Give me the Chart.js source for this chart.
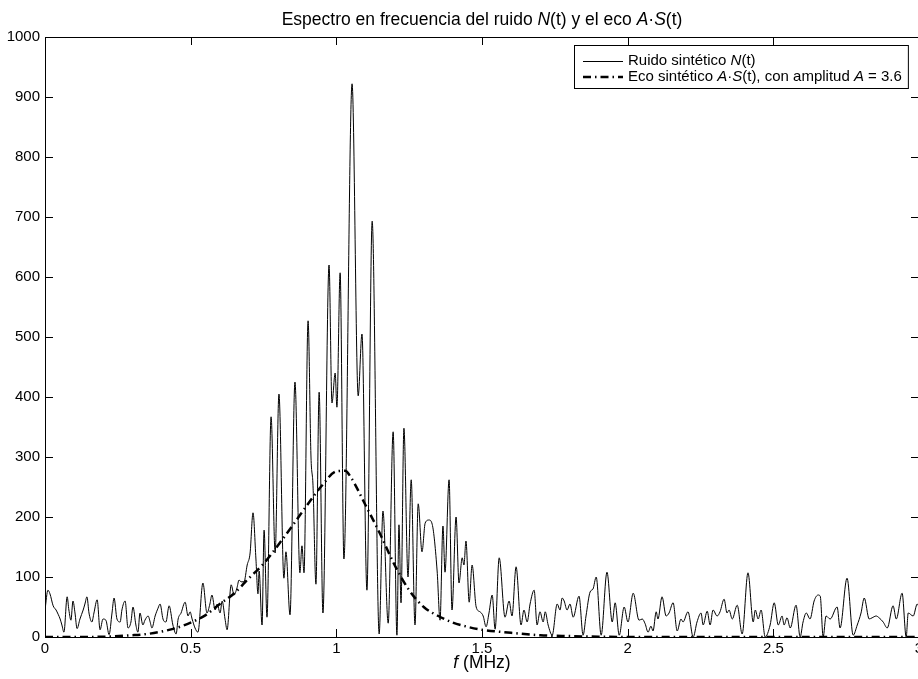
<!DOCTYPE html>
<html>
<head>
<meta charset="utf-8">
<title>Espectro</title>
<script src="https://cdn.jsdelivr.net/npm/chart.js@4.4.1/dist/chart.umd.min.js"></script>
<style>
  html, body { margin: 0; padding: 0; background: #fff; overflow: hidden; }
  #wrap { width: 920px; height: 679px; }
</style>
</head>
<body>
<div id="wrap"><canvas id="spectrum" width="920" height="679"></canvas></div>
<script>
// frecuencias (MHz) y amplitud del ruido N(t)
const noiseFreq = [
  0.000, 0.010, 0.017, 0.028, 0.038, 0.045, 0.052, 0.058, 0.065, 0.076,
  0.082, 0.089, 0.096, 0.103, 0.110, 0.120, 0.131, 0.137, 0.144, 0.151,
  0.161, 0.168, 0.179, 0.189, 0.199, 0.209, 0.220, 0.230, 0.237, 0.247,
  0.258, 0.264, 0.275, 0.285, 0.295, 0.302, 0.312, 0.319, 0.326, 0.336,
  0.343, 0.354, 0.361, 0.367, 0.378, 0.388, 0.395, 0.405, 0.415, 0.426,
  0.439, 0.450, 0.457, 0.467, 0.481, 0.491, 0.498, 0.505, 0.515, 0.525,
  0.542, 0.556, 0.566, 0.573, 0.584, 0.591, 0.601, 0.608, 0.618, 0.625,
  0.639, 0.649, 0.659, 0.666, 0.673, 0.683, 0.694, 0.704, 0.714, 0.724,
  0.731, 0.735, 0.745, 0.752, 0.762, 0.776, 0.790, 0.803, 0.820, 0.827,
  0.841, 0.858, 0.875, 0.882, 0.889, 0.903, 0.913, 0.920, 0.930, 0.941,
  0.954, 0.975, 0.985, 0.996, 1.002, 1.013, 1.026, 1.054, 1.075, 1.088,
  1.105, 1.123, 1.147, 1.160, 1.178, 1.195, 1.208, 1.215, 1.222, 1.232,
  1.246, 1.257, 1.270, 1.281, 1.294, 1.305, 1.318, 1.329, 1.346, 1.356,
  1.366, 1.373, 1.387, 1.397, 1.411, 1.421, 1.432, 1.438, 1.445, 1.456,
  1.466, 1.480, 1.493, 1.504, 1.514, 1.524, 1.535, 1.545, 1.559, 1.579,
  1.593, 1.603, 1.617, 1.634, 1.644, 1.655, 1.665, 1.679, 1.689, 1.699,
  1.710, 1.717, 1.727, 1.741, 1.758, 1.768, 1.775, 1.782, 1.792, 1.802,
  1.813, 1.833, 1.847, 1.857, 1.871, 1.881, 1.892, 1.909, 1.929, 1.947,
  1.957, 1.971, 1.988, 2.001, 2.019, 2.039, 2.050, 2.060, 2.070, 2.080,
  2.087, 2.098, 2.104, 2.118, 2.132, 2.142, 2.156, 2.170, 2.183, 2.190,
  2.207, 2.225, 2.238, 2.252, 2.259, 2.273, 2.283, 2.293, 2.307, 2.317,
  2.331, 2.341, 2.348, 2.359, 2.376, 2.393, 2.413, 2.431, 2.438, 2.448,
  2.458, 2.472, 2.489, 2.503, 2.517, 2.530, 2.537, 2.547, 2.558, 2.578,
  2.592, 2.602, 2.613, 2.626, 2.640, 2.654, 2.661, 2.671, 2.681, 2.695,
  2.719, 2.729, 2.753, 2.774, 2.788, 2.801, 2.812, 2.829, 2.839, 2.853,
  2.863, 2.877, 2.891, 2.911, 2.922, 2.942, 2.956, 2.963, 2.980, 2.994,
  3.000
];
const noiseAmp = [
  45, 78, 72, 52, 45, 38, 30, 20, 8, 67,
  45, 28, 60, 40, 14, 30, 45, 55, 67, 40,
  25, 40, 62, 12, 30, 28, 4, 40, 65, 30,
  25, 45, 60, 15, 25, 50, 20, 8, 40, 20,
  28, 35, 25, 15, 35, 48, 55, 30, 25, 52,
  20, 5, 30, 40, 58, 35, 42, 30, 15, 8,
  90, 40, 55, 70, 45, 55, 40, 60, 30, 12,
  87, 70, 82, 95, 92, 92, 120, 140, 207, 130,
  72, 110, 20, 178, 33, 367, 140, 405, 98, 142,
  37, 425, 107, 152, 107, 527, 300, 252, 88, 408,
  40, 620, 390, 440, 383, 607, 130, 922, 402, 505,
  78, 693, 5, 210, 23, 342, 3, 187, 57, 348,
  100, 262, 20, 222, 142, 190, 195, 188, 110, 28,
  185, 108, 262, 45, 200, 90, 132, 120, 160, 58,
  120, 50, 42, 35, 17, 40, 70, 13, 132, 33,
  60, 35, 117, 20, 45, 25, 55, 78, 20, 42,
  25, 42, 20, 3, 55, 45, 65, 60, 45, 55,
  33, 68, 3, 35, 75, 80, 100, 3, 108, 25,
  57, 3, 50, 25, 73, 28, 30, 22, 8, 18,
  10, 42, 30, 67, 35, 40, 57, 10, 30, 25,
  42, 0, 25, 40, 20, 43, 20, 45, 35, 42,
  63, 40, 45, 30, 53, 5, 107, 25, 45, 30,
  45, 0, 20, 57, 20, 35, 20, 32, 15, 53,
  0, 25, 40, 30, 60, 70, 68, 0, 35, 30,
  50, 15, 98, 3, 20, 40, 65, 30, 32, 35,
  32, 25, 15, 52, 30, 73, 0, 40, 35, 55,
  50
];

// eco sintetico A*S(t), A = 3.6
const echoFreq = [0, 0.1, 0.2, 0.3, 0.35, 0.4, 0.45, 0.5, 0.55, 0.6, 0.65, 0.7, 0.75, 0.8, 0.85,
  0.9, 0.95, 1.0, 1.03, 1.05, 1.1, 1.15, 1.2, 1.25, 1.3, 1.35, 1.4, 1.45, 1.5, 1.6, 1.7, 1.8, 1.9, 2.0, 3.0];
const echoAmp = [0, 0, 0.5, 3, 5, 9, 15, 24, 36, 55, 73, 98, 122, 153, 186,
  220, 252, 276, 277, 266, 220, 172, 120, 78, 50, 35, 24, 17, 12, 7, 3, 1.5, 0.5, 0, 0];

const xTicks = [0, 0.5, 1, 1.5, 2, 2.5, 3];
const yTicks = [0, 100, 200, 300, 400, 500, 600, 700, 800, 900, 1000];

const FONT = '"Liberation Sans", Arial, Helvetica, sans-serif';

function richText(ctx, parts, x, y, size, align) {
    let total = 0;
    parts.forEach(p => {
        ctx.font = (p[1] ? 'italic ' : '') + size + 'px ' + FONT;
        total += ctx.measureText(p[0]).width;
    });
    let cx = align === 'center' ? x - total / 2 : x;
    ctx.textAlign = 'left';
    ctx.textBaseline = 'middle';
    parts.forEach(p => {
        ctx.font = (p[1] ? 'italic ' : '') + size + 'px ' + FONT;
        ctx.fillText(p[0], cx, y);
        cx += ctx.measureText(p[0]).width;
    });
    return total;
}

// caja, ticks hacia dentro, titulo, etiqueta del eje x y leyenda
const matlabStyle = {
    id: 'matlabStyle',
    afterDraw(chart) {
        const ctx = chart.ctx;
        const a = chart.chartArea;
        const xs = chart.scales.x, ys = chart.scales.y;
        const tl = 8;
        ctx.save();
        ctx.strokeStyle = '#000';
        ctx.fillStyle = '#000';
        ctx.lineWidth = 1;
        ctx.beginPath();
        xTicks.forEach(v => {
            const px = Math.round(xs.getPixelForValue(v)) + 0.5;
            ctx.moveTo(px, a.bottom); ctx.lineTo(px, a.bottom - tl);
            ctx.moveTo(px, a.top); ctx.lineTo(px, a.top + tl);
        });
        yTicks.forEach(v => {
            const py = Math.round(ys.getPixelForValue(v)) + 0.5;
            ctx.moveTo(a.left, py); ctx.lineTo(a.left + tl, py);
            ctx.moveTo(a.right, py); ctx.lineTo(a.right - tl, py);
        });
        ctx.stroke();
        ctx.strokeRect(a.left + 0.5, a.top + 0.5, a.right - a.left, a.bottom - a.top);

        const cx = (a.left + a.right) / 2;
        richText(ctx, [['Espectro en frecuencia del ruido ', 0], ['N', 1], ['(t) y el eco ', 0],
            ['A', 1], ['·', 0], ['S', 1], ['(t)', 0]], cx, 20, 17.5, 'center');
        richText(ctx, [['f', 1], [' (MHz)', 0]], cx, 663, 17.5, 'center');

        // leyenda
        const lx = 574, ly = 45, textX = 628;
        const w1 = richText(ctx, [['Ruido sintético ', 0], ['N', 1], ['(t)', 0]], textX, 61, 15, 'left');
        const w2 = richText(ctx, [['Eco sintético ', 0], ['A', 1], ['·', 0], ['S', 1],
            ['(t), con amplitud ', 0], ['A', 1], [' = 3.6', 0]], textX, 77, 15, 'left');
        const right = textX + Math.max(w1, w2) + 6;
        ctx.lineWidth = 1;
        ctx.strokeRect(lx + 0.5, ly + 0.5, right - lx, 43);
        ctx.beginPath();
        ctx.moveTo(583, 61.5); ctx.lineTo(623, 61.5);
        ctx.stroke();
        ctx.lineWidth = 2.5;
        ctx.setLineDash([8, 4, 1.5, 4]);
        ctx.beginPath();
        ctx.moveTo(583, 77); ctx.lineTo(623, 77);
        ctx.stroke();
        ctx.restore();
    }
};

const ctx = document.getElementById('spectrum').getContext('2d');
const spectrumChart = new Chart(ctx, {
    type: 'line',
    data: {
        datasets: [{
            label: 'Ruido sintético N(t)',
            data: noiseFreq.map((f, i) => ({ x: f, y: noiseAmp[i] })),
            borderColor: '#000',
            borderWidth: 1,
            pointRadius: 0,
            cubicInterpolationMode: 'monotone',
            order: 1
        }, {
            label: 'Eco sintético A·S(t), con amplitud A = 3.6',
            data: echoFreq.map((f, i) => ({ x: f, y: echoAmp[i] })),
            borderColor: '#000',
            borderWidth: 2.5,
            borderDash: [8, 4, 1.5, 4],
            pointRadius: 0,
            cubicInterpolationMode: 'monotone',
            order: 0
        }]
    },
    options: {
        responsive: false,
        animation: false,
        events: [],
        layout: { autoPadding: false, padding: { top: 37, right: 1, left: 0, bottom: 0 } },
        plugins: {
            legend: { display: false },
            title: { display: false },
            tooltip: { enabled: false }
        },
        scales: {
            x: {
                type: 'linear',
                min: 0,
                max: 3,
                afterFit: s => { s.height = 42; s.paddingLeft = 0; s.paddingRight = 0; },
                afterBuildTicks: s => { s.ticks = xTicks.map(v => ({ value: v })); },
                grid: { display: false, drawTicks: false },
                border: { display: false },
                ticks: {
                    padding: 3,
                    color: '#000',
                    font: { family: FONT, size: 15 },
                    maxRotation: 0,
                    autoSkip: false,
                    callback: v => String(v)
                }
            },
            y: {
                min: 0,
                max: 1000,
                afterFit: s => { s.width = 45; s.paddingTop = 0; s.paddingBottom = 0; },
                afterBuildTicks: s => { s.ticks = yTicks.map(v => ({ value: v })); },
                grid: { display: false, drawTicks: false },
                border: { display: false },
                ticks: {
                    padding: 5,
                    color: '#000',
                    font: { family: FONT, size: 15 },
                    autoSkip: false,
                    callback: v => String(v)
                }
            }
        }
    },
    plugins: [matlabStyle]
});
</script>
</body>
</html>
